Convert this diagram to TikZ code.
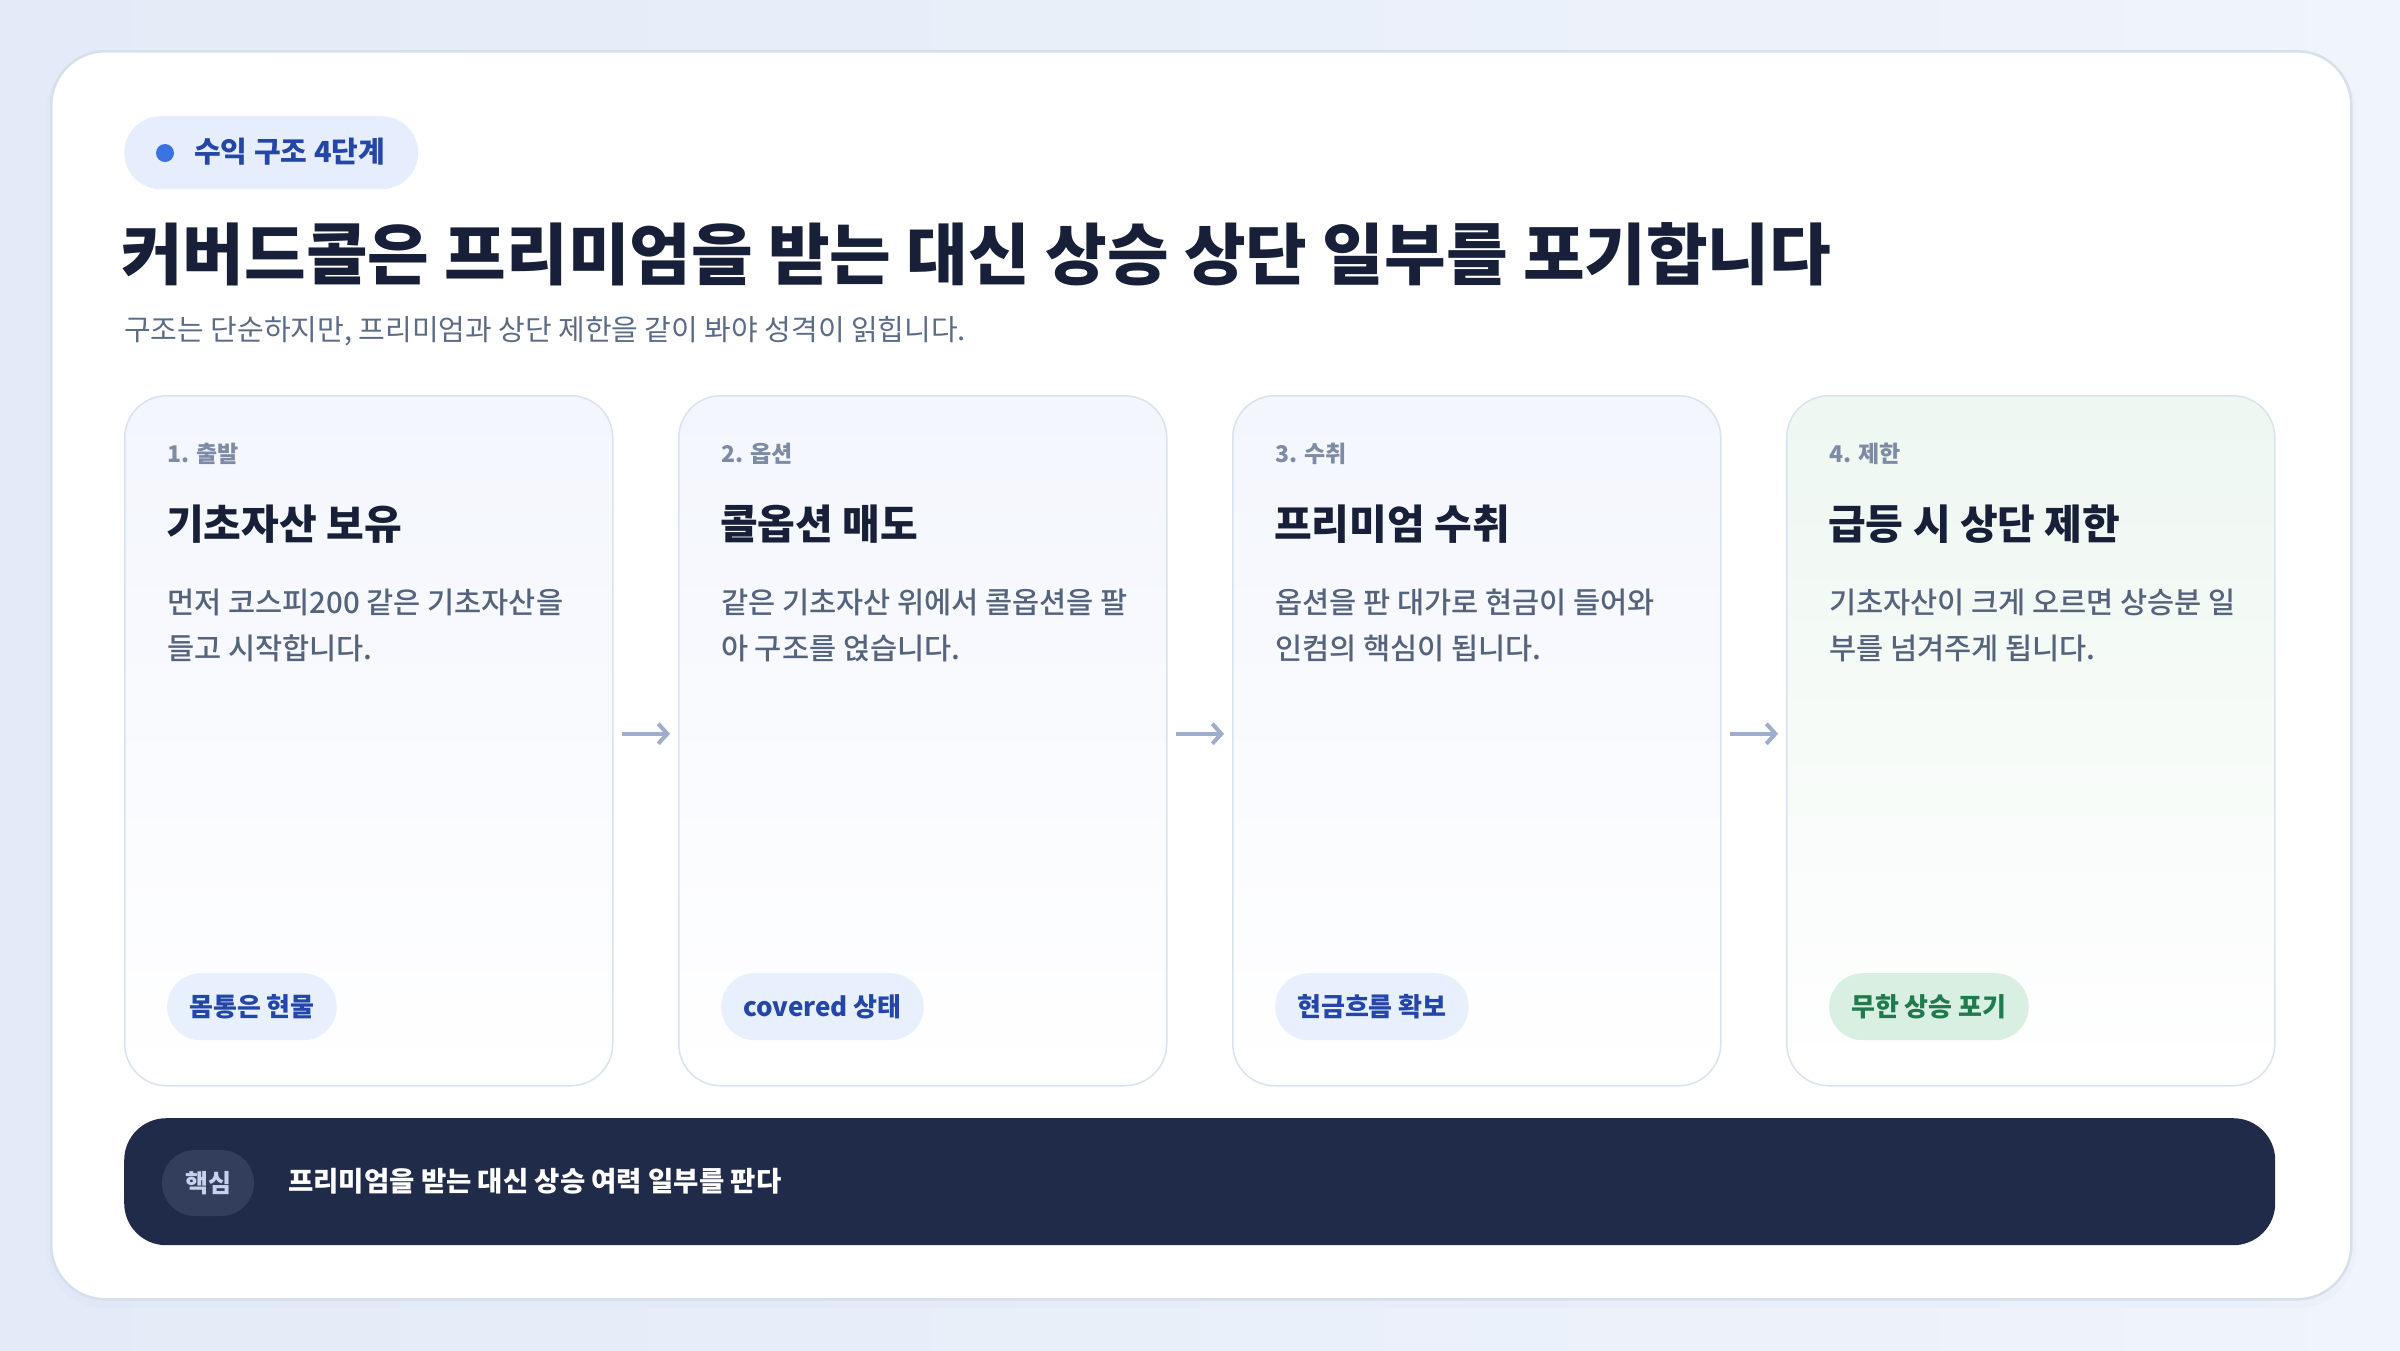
\documentclass[tikz,border=0pt]{standalone}
\usepackage{fontspec}
\setmainfont{Noto Sans CJK KR}
\newfontfamily\heavyfont{Noto Sans CJK KR Black}
\newfontfamily\medfont{Noto Sans CJK KR Medium}
\usetikzlibrary{calc,arrows.meta}
\definecolor{bgA}{HTML}{E3EBF8}
\definecolor{bgB}{HTML}{F0F4FB}
\definecolor{frameline}{HTML}{D5E0EB}
\definecolor{cardline}{HTML}{D9E3EF}
\definecolor{cardtop}{HTML}{F3F6FD}
\definecolor{cardtopg}{HTML}{EEF7F1}
\definecolor{pillblue}{HTML}{E6EEFD}
\definecolor{pilltext}{HTML}{2447A6}
\definecolor{dotc}{HTML}{3B73E0}
\definecolor{ttl}{HTML}{172038}
\definecolor{subc}{HTML}{5C6B86}
\definecolor{stepc}{HTML}{7D8BA5}
\definecolor{bodyc}{HTML}{55637D}
\definecolor{tagblue}{HTML}{E8F0FD}
\definecolor{tagbluetext}{HTML}{2346A8}
\definecolor{taggreen}{HTML}{D8EFE1}
\definecolor{taggreentext}{HTML}{1F7A4D}
\definecolor{arrowc}{HTML}{9DADCB}
\definecolor{barc}{HTML}{1F2B48}
\definecolor{keyfill}{HTML}{323E5C}
\definecolor{keytext}{HTML}{C5D2EC}
\tikzset{
  frame/.style={draw=frameline, line width=2.5pt, fill=white, rounded corners=54pt, inner sep=0pt, anchor=north west},
  card/.style={draw=cardline, line width=1.5pt, rounded corners=42pt, minimum width=488pt, minimum height=690pt, anchor=north west, inner sep=0pt, top color=cardtop, bottom color=white},
  greencard/.style={card, top color=cardtopg, bottom color=white},
  steplabel/.style={anchor=west, inner sep=0pt, text=stepc, font=\bfseries\fontsize{23}{28}\selectfont},
  cardtitle/.style={anchor=west, inner sep=0pt, text=ttl, font=\bfseries\fontsize{41}{48}\selectfont},
  bodyline/.style={anchor=west, inner sep=0pt, text=bodyc, font=\medfont\fontsize{29.5}{34}\selectfont},
  tag/.style={anchor=north west, inner xsep=22pt, inner ysep=0pt, minimum height=67pt, rounded corners=33.5pt, font=\bfseries\fontsize{26}{30}\selectfont},
  bluetag/.style={tag, fill=tagblue, text=tagbluetext},
  greentag/.style={tag, fill=taggreen, text=taggreentext},
  flow/.style={draw=arrowc, line width=4pt, -{Straight Barb[length=9pt,width=20pt]}, shorten <=8pt, shorten >=8pt},
}
\begin{document}
\begin{tikzpicture}[x=1pt,y=-1pt]
\useasboundingbox (0,0) rectangle (2400,1350);
\shade[left color=bgA, right color=bgB] (0,0) rectangle (2400,1350);
% soft shadow
\fill[black!40!blue!30, opacity=0.06, rounded corners=58pt] (46,54) rectangle (2356,1308);
\node[frame, minimum width=2300pt, minimum height=1248pt] (frame) at (50,50) {};

% header
\node[anchor=north west, fill=pillblue, rounded corners=36.5pt, minimum width=294pt, minimum height=73pt, inner sep=0pt] (badge) at (124,116) {};
\node[circle, fill=dotc, minimum size=18pt, inner sep=0pt] (dot) at (165,153) {};
\node[anchor=west, inner sep=0pt, text=pilltext, font=\bfseries\fontsize{29}{34}\selectfont] (badgetext) at (194,152) {수익 구조 4단계};
\node[anchor=west, inner sep=0pt, text=ttl, font=\heavyfont\fontsize{67}{76}\selectfont] (title) at (121,254) {커버드콜은 프리미엄을 받는 대신 상승 상단 일부를 포기합니다};
\node[anchor=west, inner sep=0pt, text=subc, font=\fontsize{29}{34}\selectfont] (subtitle) at (124,331) {구조는 단순하지만, 프리미엄과 상단 제한을 같이 봐야 성격이 읽힙니다.};

% cards
\node[card] (c1) at (124,395) {};
\node[card] (c2) at (678,395) {};
\node[card] (c3) at (1232,395) {};
\node[greencard] (c4) at (1786,395) {};

\node[steplabel] (s1) at (167,454) {1. 출발};
\node[cardtitle] (t1) at (166,524) {기초자산 보유};
\node[bodyline] (b1a) at (167,602) {먼저 코스피200 같은 기초자산을};
\node[bodyline] (b1b) at (167,648) {들고 시작합니다.};
\node[bluetag] (g1) at (167,973) {몸통은 현물};

\node[steplabel] (s2) at (721,454) {2. 옵션};
\node[cardtitle] (t2) at (720,524) {콜옵션 매도};
\node[bodyline] (b2a) at (721,602) {같은 기초자산 위에서 콜옵션을 팔};
\node[bodyline] (b2b) at (721,648) {아 구조를 얹습니다.};
\node[bluetag] (g2) at (721,973) {covered 상태};

\node[steplabel] (s3) at (1275,454) {3. 수취};
\node[cardtitle] (t3) at (1274,524) {프리미엄 수취};
\node[bodyline] (b3a) at (1275,602) {옵션을 판 대가로 현금이 들어와};
\node[bodyline] (b3b) at (1275,648) {인컴의 핵심이 됩니다.};
\node[bluetag] (g3) at (1275,973) {현금흐름 확보};

\node[steplabel] (s4) at (1829,454) {4. 제한};
\node[cardtitle] (t4) at (1828,524) {급등 시 상단 제한};
\node[bodyline] (b4a) at (1829,602) {기초자산이 크게 오르면 상승분 일};
\node[bodyline] (b4b) at (1829,648) {부를 넘겨주게 됩니다.};
\node[greentag] (g4) at (1829,973) {무한 상승 포기};

\draw[flow] ([yshift=7pt]c1.east) -- ([yshift=7pt]c2.west);
\draw[flow] ([yshift=7pt]c2.east) -- ([yshift=7pt]c3.west);
\draw[flow] ([yshift=7pt]c3.east) -- ([yshift=7pt]c4.west);

% bottom bar
\node[anchor=north west, fill=barc, rounded corners=42pt, minimum width=2151pt, minimum height=127pt, inner sep=0pt] (bar) at (124,1118) {};
\node[fill=keyfill, rounded corners=33pt, minimum width=92pt, minimum height=66pt, inner sep=0pt, text=keytext, font=\bfseries\fontsize{25}{29}\selectfont] (key) at (208,1183) {핵심};
\node[anchor=west, inner sep=0pt, text=white, font=\bfseries\fontsize{27.5}{32}\selectfont] (keymsg) at (288,1181) {프리미엄을 받는 대신 상승 여력 일부를 판다};
\end{tikzpicture}
\end{document}
